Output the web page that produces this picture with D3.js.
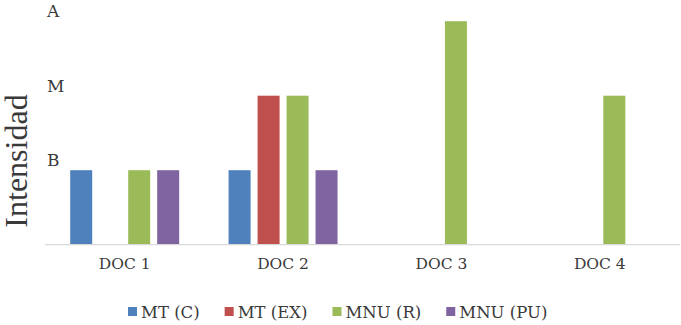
<!DOCTYPE html>
<html>
<head>
<meta charset="utf-8">
<script src="https://cdn.jsdelivr.net/npm/d3@7"></script>
<style>
  body { margin: 0; background: #fff; }
  svg { display: block; }
</style>
</head>
<body>
<div id="chart"></div>
<script>
const categories = ['DOC 1', 'DOC 2', 'DOC 3', 'DOC 4'];
const seriesNames = ['MT (C)', 'MT (EX)', 'MNU (R)', 'MNU (PU)'];
const mtC = [1, 1, 0, 0];
const mtEx = [0, 2, 0, 0];
const mnuR = [1, 2, 3, 2];
const mnuPu = [1, 1, 0, 0];
const levelValues = [1, 2, 3];
const levelLabels = ['B', 'M', 'A'];
const colors = ['#4f81bd', '#c0504d', '#9bbb59', '#8064a2'];

const seriesValues = [mtC, mtEx, mnuR, mnuPu];
const width = 681, height = 325;
const serif = '"DejaVu Serif", serif';

const svg = d3.select('#chart').append('svg')
  .attr('width', width)
  .attr('height', height);

const x = d3.scaleBand()
  .domain(categories)
  .range([45.5, 679]);

const xSeries = d3.scaleBand()
  .domain(seriesNames)
  .range([0, x.bandwidth()])
  .paddingInner(0.241)
  .paddingOuter(0.852);

const y = d3.scaleLinear()
  .domain([0, 3])
  .range([244.7, 21.2]);

// bars
const groups = svg.selectAll('g.series')
  .data(seriesNames)
  .enter()
  .append('g')
  .attr('fill', (d, i) => colors[i]);

groups.selectAll('rect')
  .data((s, i) => categories.map((c, j) => ({ cat: c, series: s, value: seriesValues[i][j] })))
  .enter()
  .filter(d => d.value > 0)
  .append('rect')
  .attr('x', d => x(d.cat) + xSeries(d.series))
  .attr('y', d => y(d.value))
  .attr('width', xSeries.bandwidth())
  .attr('height', d => y(0) - y(d.value));

// baseline
svg.append('line')
  .attr('x1', 45).attr('x2', 680)
  .attr('y1', y(0)).attr('y2', y(0))
  .attr('stroke', '#d9d9d9')
  .attr('stroke-width', 1.3);

// level labels
svg.selectAll('text.level')
  .data(levelValues)
  .enter()
  .append('text')
  .attr('class', 'level')
  .attr('x', 47)
  .attr('y', d => y(d) - 4)
  .style('font-family', serif)
  .style('font-size', '17px')
  .attr('fill', '#3a3a3a')
  .text((d, i) => levelLabels[i]);

// category labels
const xAxis = svg.append('g')
  .attr('transform', `translate(0, ${y(0)})`)
  .call(d3.axisBottom(x).tickSize(0).tickPadding(13));
xAxis.select('.domain').remove();
xAxis.selectAll('text')
  .style('font-family', serif)
  .style('font-size', '15.5px')
  .attr('fill', '#3a3a3a');

// axis title
svg.append('text')
  .attr('transform', 'translate(27, 161) rotate(-90)')
  .attr('text-anchor', 'middle')
  .style('font-family', '"Liberation Serif", serif')
  .style('font-size', '32px')
  .attr('fill', '#3a3a3a')
  .text('Intensidad');

// legend
const legend = svg.append('g');
let lx = 128;
seriesNames.forEach((name, i) => {
  legend.append('rect')
    .attr('x', lx).attr('y', 307)
    .attr('width', 9).attr('height', 9)
    .attr('fill', colors[i]);
  const t = legend.append('text')
    .attr('x', lx + 13).attr('y', 318)
    .style('font-family', serif)
    .style('font-size', '16.5px')
    .attr('fill', '#3a3a3a')
    .text(name);
  lx += 13 + t.node().getComputedTextLength() + 25;
});
</script>
</body>
</html>
